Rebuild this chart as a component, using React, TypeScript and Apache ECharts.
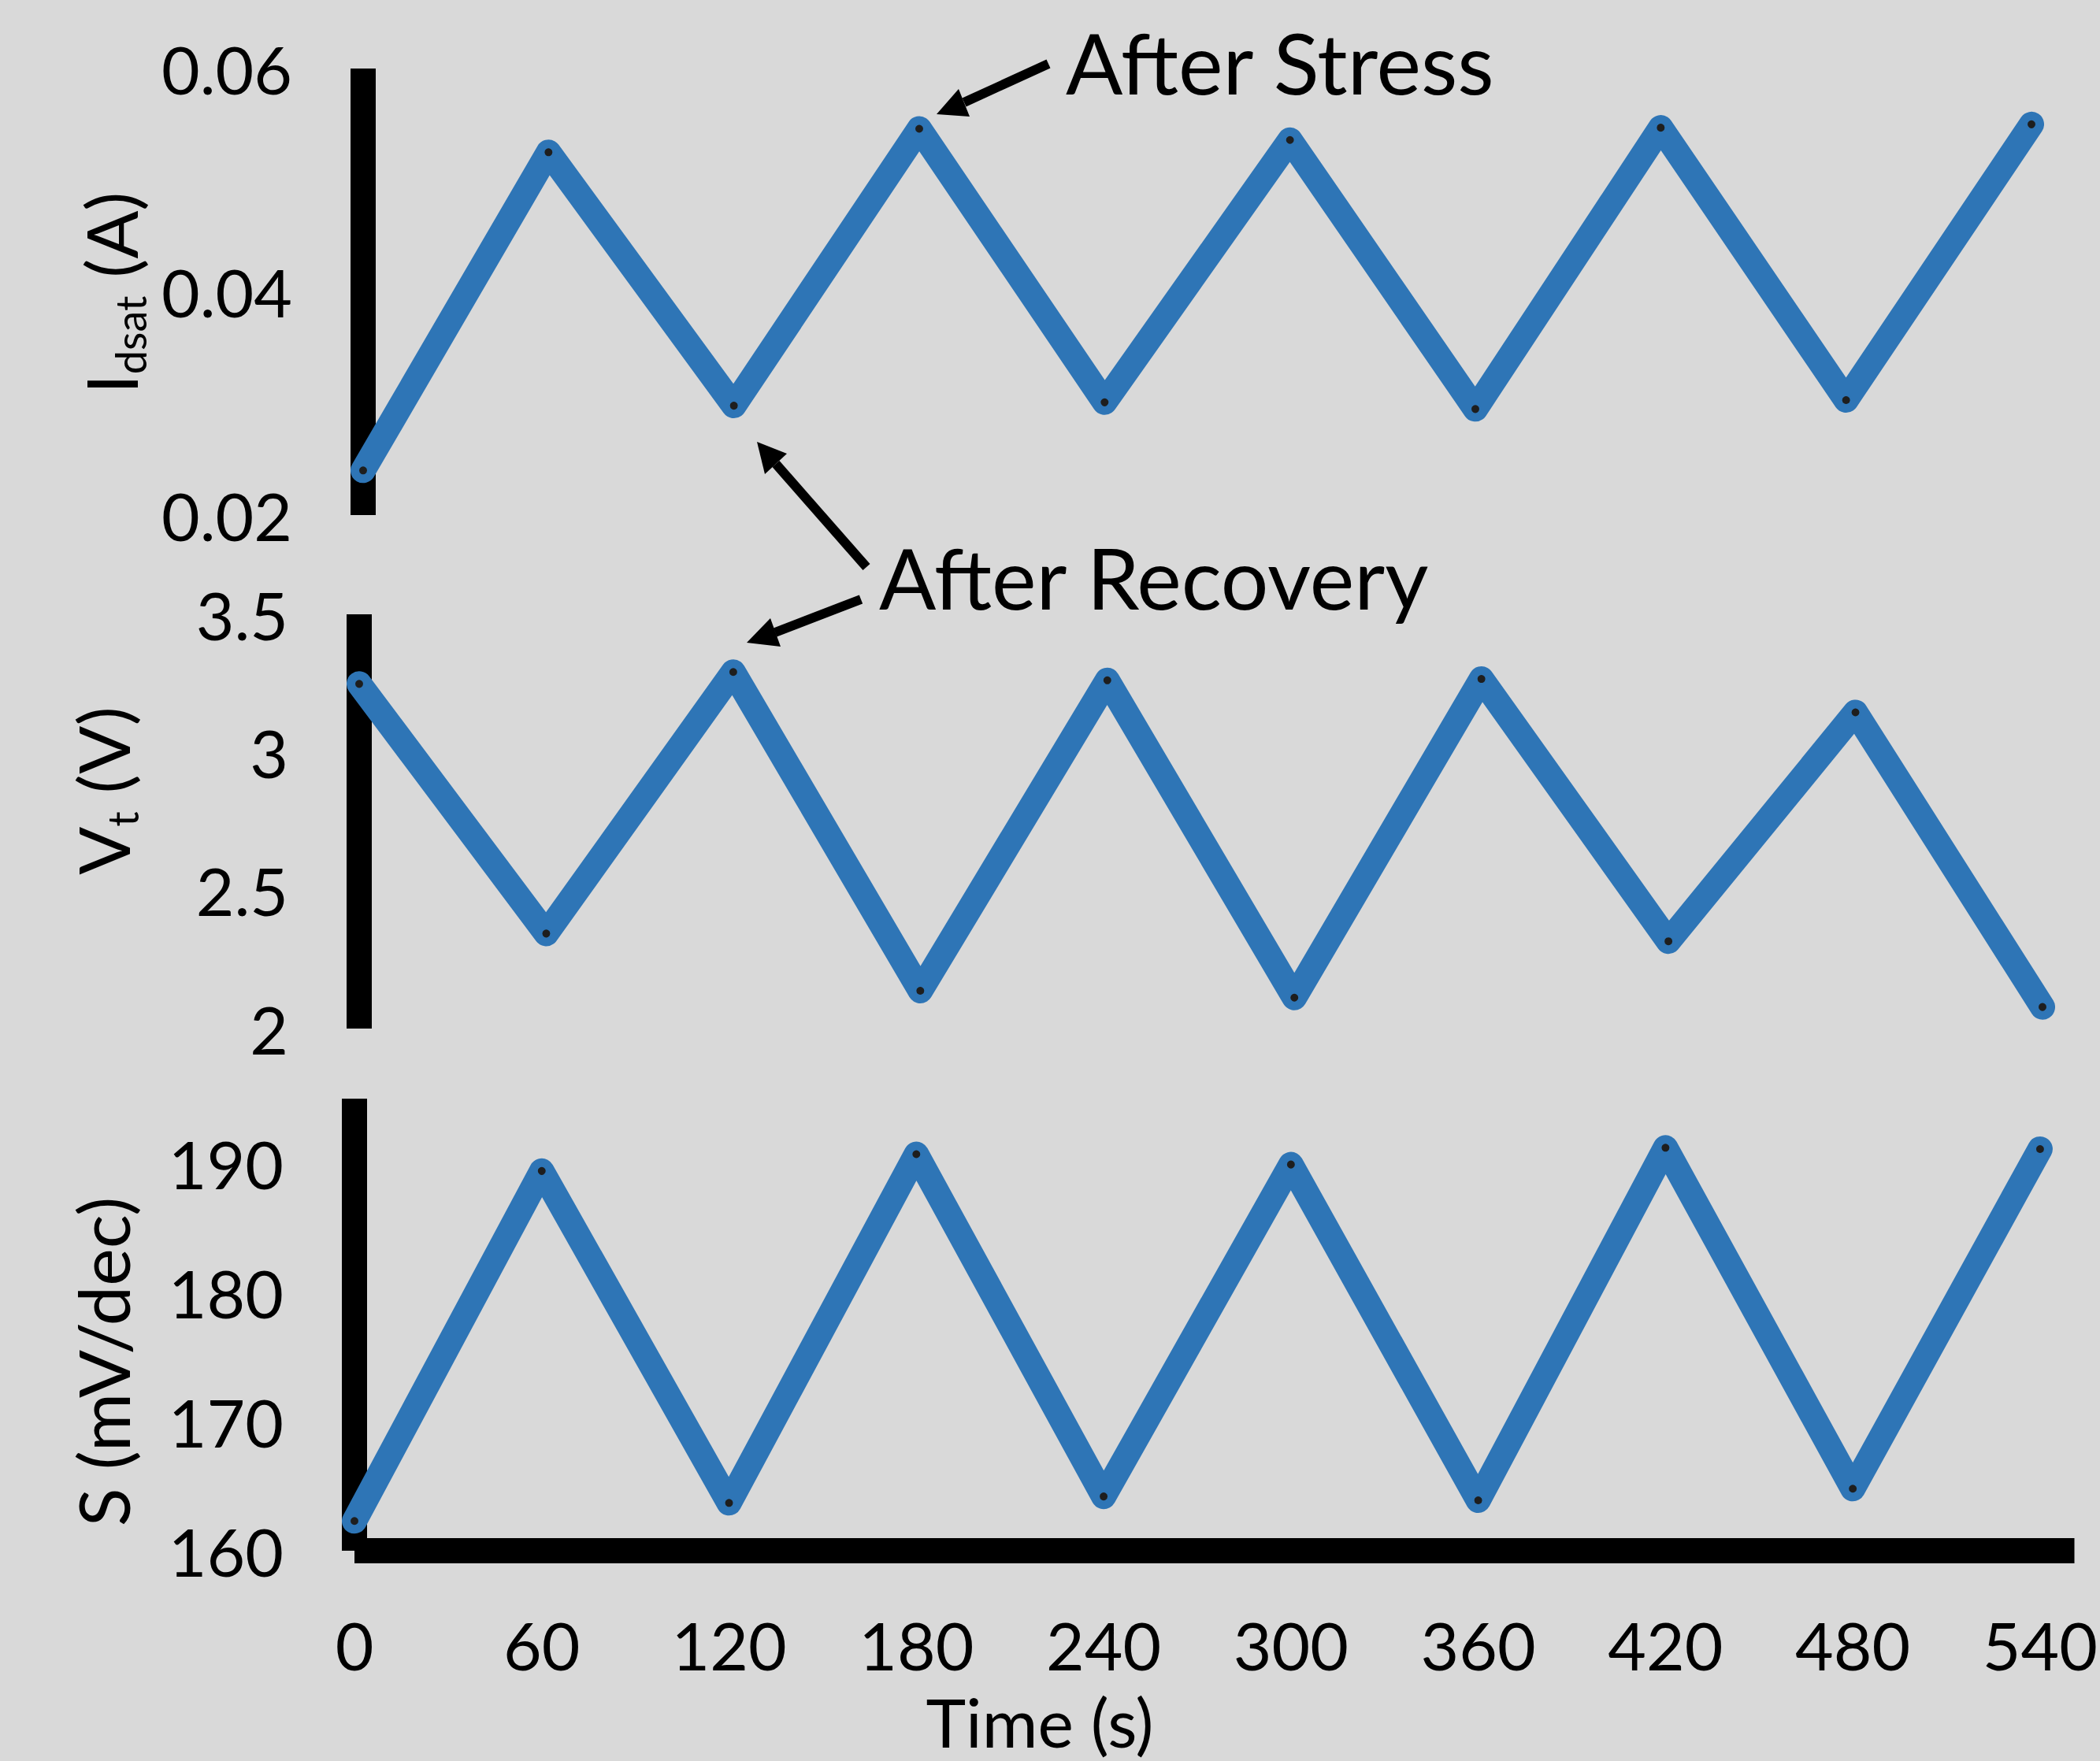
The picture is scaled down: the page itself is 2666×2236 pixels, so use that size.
import React, { useEffect, useRef } from 'react';
import * as echarts from 'echarts';

// ---- data ----
const times = [0, 60, 120, 180, 240, 300, 360, 420, 480, 540];
const idsat = [0.024, 0.0525, 0.0298, 0.0546, 0.0301, 0.0536, 0.0295, 0.0547, 0.0303, 0.055];
const vt = [3.248, 2.344, 3.291, 2.137, 3.261, 2.112, 3.266, 2.316, 3.145, 2.078];
const sSwing = [162.3, 189.4, 163.7, 190.7, 164.2, 189.9, 163.9, 191.2, 164.8, 191.1];

const idsatRange = [0.02, 0.06];
const idsatStep = 0.02;
const vtRange = [2, 3.5];
const vtStep = 0.5;
const sRange = [160, 195];
const sStep = 10;
const timeRange = [0, 551];
const timeStep = 60;

const BLUE = '#2E75B6';
const FONT = 'Lato, "Open Sans", sans-serif';

export default function App() {
  const ref = useRef<HTMLDivElement>(null);
  useEffect(() => {
    document.body.style.margin = '0';
    const chart = echarts.init(ref.current!, null, { renderer: 'svg' });

    const axisLine = { show: true, lineStyle: { color: '#000', width: 32, cap: 'butt' } };
    const yAxis = (gridIndex: number, range: number[], step: number, fmt: (v: number) => string) => ({
      type: 'value',
      gridIndex,
      min: range[0],
      max: range[1],
      interval: step,
      axisLine,
      axisTick: { show: false },
      splitLine: { show: false },
      axisLabel: { margin: 90, fontSize: 84, color: '#000', fontFamily: FONT, formatter: fmt },
    });
    const hiddenX = (gridIndex: number) => ({
      type: 'value', gridIndex, min: 0, max: 540, show: false,
    });
    const series = (i: number, vals: number[]) => ({
      type: 'line',
      xAxisIndex: i,
      yAxisIndex: i,
      data: times.map((t, k) => [t, vals[k]]),
      lineStyle: { color: BLUE, width: 32, cap: 'round', join: 'round' },
      symbol: 'circle',
      symbolSize: 12,
      showSymbol: true,
      itemStyle: { color: '#1e1e1e', borderColor: BLUE, borderWidth: 2 },
      z: 3,
    });

    const arrow = (x1: number, y1: number, bx: number, by: number, pts: number[][]) => [
      { type: 'line', shape: { x1, y1, x2: bx, y2: by }, style: { stroke: '#000', lineWidth: 12 } },
      { type: 'polygon', shape: { points: pts }, style: { fill: '#000' } },
    ];

    const titleRich = {
      m: { fontSize: 90, fontFamily: FONT, fill: '#000', color: '#000', lineHeight: 104 },
      s: { fontSize: 54, fontFamily: FONT, fill: '#000', color: '#000', lineHeight: 30, verticalAlign: 'bottom' },
    };
    const vTitle = (x: number, y: number, text: string) => ({
      type: 'text', x, y, rotation: Math.PI / 2,
      style: { text, rich: titleRich, align: 'center', verticalAlign: 'middle', textAlign: 'center', textVerticalAlign: 'middle' },
    });

    chart.setOption({
      animation: false,
      backgroundColor: '#D9D9D9',
      grid: [
        { left: 461, top: 87, width: 2118, height: 567 },
        { left: 456, top: 780, width: 2137, height: 526 },
        { left: 450, top: 1395, width: 2189, height: 574 },
      ],
      xAxis: [
        hiddenX(0),
        hiddenX(1),
        {
          type: 'value', gridIndex: 2, min: timeRange[0], max: timeRange[1], interval: timeStep,
          axisLine, axisTick: { show: false }, splitLine: { show: false },
          axisLabel: {
            margin: 77, fontSize: 84, color: '#000', fontFamily: FONT,
            formatter: (v: number) => (v % 60 === 0 && v <= 540 ? String(v) : ''),
          },
        },
      ],
      yAxis: [
        yAxis(0, idsatRange, idsatStep, (v: number) => v.toFixed(2)),
        yAxis(1, vtRange, vtStep, (v: number) => String(Math.round(v * 10) / 10)),
        yAxis(2, sRange, sStep, (v: number) => (v % 10 === 0 ? String(v) : '')),
      ],
      series: [series(0, idsat), series(1, vt), series(2, sSwing)],
      graphic: [
        vTitle(140, 372, '{m|I}{s|dsat}{m| (A)}'),
        vTitle(130, 1004, '{m|V}{s|t}{m| (V)}'),
        vTitle(130, 1729, '{m|S (mV/dec)}'),
        {
          type: 'text', x: 1320, y: 2185,
          style: { text: 'Time (s)', fontSize: 86, fontFamily: FONT, fill: '#000', align: 'center', verticalAlign: 'middle', textAlign: 'center', textVerticalAlign: 'middle' },
        },
        {
          type: 'text', x: 1353, y: 78,
          style: { text: 'After Stress', fontSize: 107, fontFamily: FONT, fill: '#000', align: 'left', verticalAlign: 'middle', textAlign: 'left', textVerticalAlign: 'middle' },
        },
        {
          type: 'text', x: 1116, y: 732,
          style: { text: 'After Recovery', fontSize: 107, fontFamily: FONT, fill: '#000', align: 'left', verticalAlign: 'middle', textAlign: 'left', textVerticalAlign: 'middle' },
        },
        ...arrow(1331, 81, 1224, 130, [[1189, 145], [1217, 113], [1231, 148]]),
        ...arrow(1100, 720, 985, 589, [[961, 561], [971, 602], [999, 576]]),
        ...arrow(1093, 761, 984, 803, [[948, 816], [978, 785], [991, 821]]),
      ],
    });
    return () => chart.dispose();
  }, []);
  return <div ref={ref} style={{ width: 2666, height: 2236 }} />;
}
